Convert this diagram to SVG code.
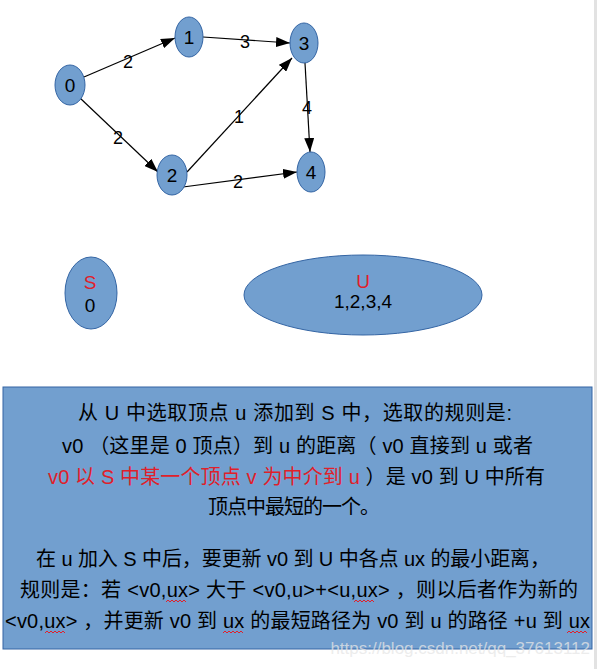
<svg xmlns="http://www.w3.org/2000/svg" width="600" height="669" viewBox="0 0 600 669">
<style>
.n{fill:#729fcf;stroke:#3465a4;stroke-width:1}
.t{font-family:"Liberation Sans","Noto Sans CJK SC",sans-serif;fill:#000}
.nl{font-size:19px;text-anchor:middle}
.el{font-size:18px;text-anchor:middle}
.e{stroke:#000;stroke-width:1.2;fill:none;marker-end:url(#ah)}
.b{font-size:20px}
.r{fill:#e0202a}
.sq{stroke:#e0202a;stroke-width:1;fill:none}
</style>
<defs>
<marker id="ah" markerWidth="14" markerHeight="10" refX="14" refY="5" orient="auto" markerUnits="userSpaceOnUse">
<path d="M0,0 L14,5 L0,10 Z" fill="#000"/>
</marker>
</defs>
<rect x="594" y="0" width="3" height="669" fill="#e2e2e2"/>
<g id="edges">
<line class="e" x1="84" y1="77" x2="175" y2="38"/>
<line class="e" x1="203" y1="37" x2="290" y2="43"/>
<line class="e" x1="80" y1="98" x2="158" y2="172"/>
<line class="e" x1="187" y1="172" x2="292" y2="58"/>
<line class="e" x1="305" y1="63" x2="310" y2="152"/>
<line class="e" x1="183" y1="187" x2="297" y2="172"/>
<text class="t el" x="128" y="68">2</text>
<text class="t el" x="245" y="48">3</text>
<text class="t el" x="118" y="144">2</text>
<text class="t el" x="239" y="123">1</text>
<text class="t el" x="307" y="114">4</text>
<text class="t el" x="238" y="188">2</text>
</g>
<g id="node0"><ellipse class="n" cx="70" cy="85" rx="15" ry="20"/><text class="t nl" x="70" y="92">0</text></g>
<g id="node1"><ellipse class="n" cx="189" cy="37" rx="14" ry="20"/><text class="t nl" x="189" y="44">1</text></g>
<g id="node3"><ellipse class="n" cx="304" cy="43" rx="14" ry="20"/><text class="t nl" x="304" y="50">3</text></g>
<g id="node2"><ellipse class="n" cx="172" cy="175" rx="15" ry="20"/><text class="t nl" x="172" y="182">2</text></g>
<g id="node4"><ellipse class="n" cx="311" cy="172" rx="14" ry="20"/><text class="t nl" x="311" y="179">4</text></g>
<g id="setS"><ellipse class="n" cx="91" cy="293" rx="26" ry="36"/>
<text class="t nl r" x="90" y="289">S</text><text class="t nl" x="90" y="312">0</text></g>
<g id="setU"><ellipse class="n" cx="363" cy="295" rx="119" ry="40"/>
<text class="t nl r" x="363" y="288">U</text><text class="t nl" x="363" y="308">1,2,3,4</text></g>
<g id="box">
<rect x="3" y="387" width="589" height="262" fill="#729fcf" stroke="#3465a4" stroke-width="1"/>
<text class="t b" x="78" y="420" textLength="434" lengthAdjust="spacing">从 U 中选取顶点 u 添加到 S 中，选取的规则是:</text>
<text class="t b" x="62" y="453" textLength="471" lengthAdjust="spacing">v0 （这里是 0 顶点）到 u 的距离（ v0 直接到 u 或者</text>
<text class="t b" x="48" y="484" textLength="497" lengthAdjust="spacing"><tspan class="r">v0 以 S 中某一个顶点 v 为中介到 u</tspan> ）是 v0 到 U 中所有</text>
<text class="t b" x="208" y="514" textLength="172" lengthAdjust="spacing">顶点中最短的一个。</text>
<text class="t b" x="36" y="566" textLength="514" lengthAdjust="spacing">在 u 加入 S 中后，要更新 v0 到 U 中各点 ux 的最小距离，</text>
<text class="t b" x="20" y="597" textLength="558" lengthAdjust="spacing">规则是：若 &lt;v0,ux&gt; 大于 &lt;v0,u&gt;+&lt;u,ux&gt; ，则以后者作为新的</text>
<text class="t b" x="5" y="628" textLength="585" lengthAdjust="spacing">&lt;v0,ux&gt; ，并更新 v0 到 ux 的最短路径为 v0 到 u 的路径 +u 到 ux</text>
</g>
<g id="spell">
<path class="sq" d="M166,602 l2,-2 l2,2 l2,-2 l2,2 l2,-2 l2,2 l2,-2 l2,2 l2,-2 l2,2"/>
<path class="sq" d="M354,602 l2,-2 l2,2 l2,-2 l2,2 l2,-2 l2,2 l2,-2 l2,2 l2,-2 l2,2"/>
<path class="sq" d="M45,633 l2,-2 l2,2 l2,-2 l2,2 l2,-2 l2,2 l2,-2 l2,2 l2,-2 l2,2"/>
<path class="sq" d="M223,633 l2,-2 l2,2 l2,-2 l2,2 l2,-2 l2,2 l2,-2 l2,2 l2,-2 l2,2"/>
<path class="sq" d="M567,633 l2,-2 l2,2 l2,-2 l2,2 l2,-2 l2,2 l2,-2 l2,2 l2,-2 l2,2"/>
</g>
<text class="t" x="590" y="654" font-size="17" text-anchor="end" style="fill:#e6e6e6;fill-opacity:0.75">https://blog.csdn.net/qq_37613112</text>
</svg>
